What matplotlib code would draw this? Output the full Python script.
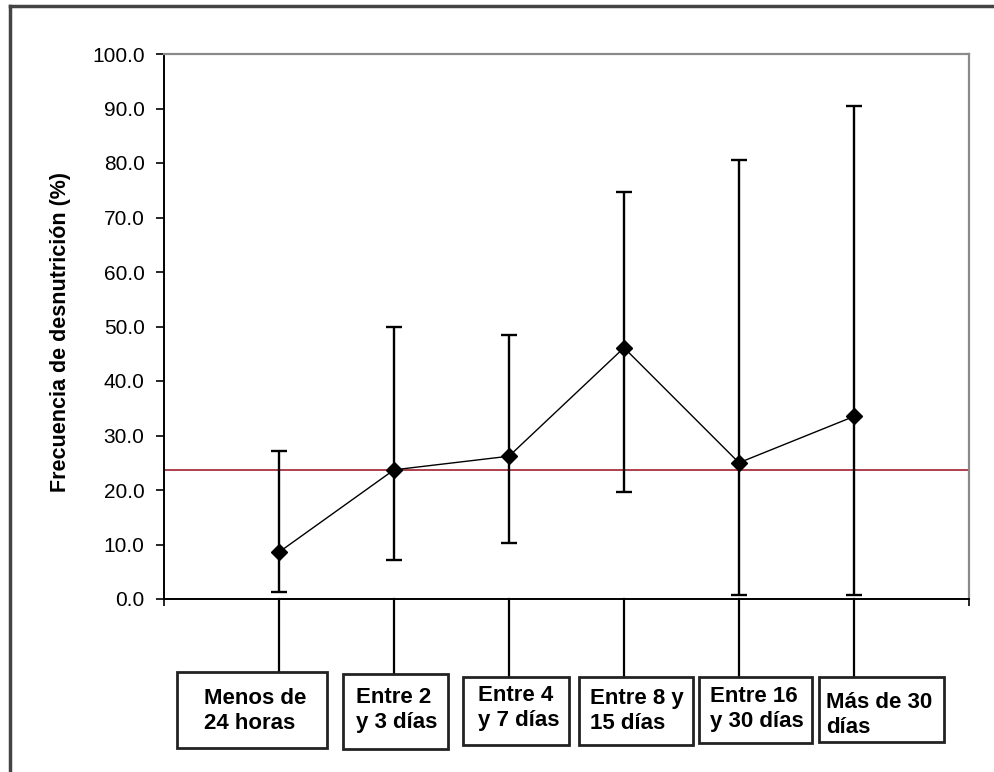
import matplotlib
matplotlib.use('Agg')
import matplotlib.pyplot as plt
import matplotlib.transforms as mtransforms
from matplotlib.lines import Line2D
from matplotlib.patches import Rectangle
import numpy as np

matplotlib.rcParams['font.family'] = ['Liberation Sans', 'DejaVu Sans']

# datos
categorias = ['Menos de\n24 horas', 'Entre 2\ny 3 días', 'Entre 4\ny 7 días',
              'Entre 8 y\n15 días', 'Entre 16\ny 30 días', 'Más de 30\ndías']
frecuencia = np.array([8.6, 23.7, 26.2, 46.1, 25.0, 33.5])
ic_inferior = np.array([1.2, 7.1, 10.3, 19.6, 0.8, 0.8])
ic_superior = np.array([27.2, 50.0, 48.4, 74.7, 80.6, 90.5])
frecuencia_global = 23.6
yticks = np.arange(0, 101, 10)

W, H = 994, 772
# layout of the label boxes in image pixels (left, right, top, bottom)
cajas = [(177, 327, 672, 748), (343, 448, 674, 749), (463, 569, 677, 745),
         (579, 693, 677, 745), (699, 812, 677, 743), (819, 944, 677, 742)]
texto_x = [204, 356, 478, 590, 710, 826]
texto_y = [711, 710, 708, 711, 709, 715]


def fx(x):
    return x / W


def fy(y):
    return 1 - y / H


fig = plt.figure(figsize=(W / 100, H / 100), dpi=100)
ax_l, ax_r, ax_t, ax_b = 164, 969, 54, 599
ax = fig.add_axes([fx(ax_l), fy(ax_b), (ax_r - ax_l) / W, (ax_b - ax_t) / H])

x = np.arange(1, len(categorias) + 1)
ax.axhline(frecuencia_global, color='#a8303e', lw=1.3, zorder=1)
ax.errorbar(x, frecuencia, yerr=[frecuencia - ic_inferior, ic_superior - frecuencia],
            fmt='-D', color='black', ms=8.5, lw=1.0, elinewidth=1.7,
            capsize=6, capthick=1.7, zorder=3)

ax.set_xlim(0, len(categorias) + 1)
ax.set_ylim(0, 100)
ax.set_yticks(yticks)
ax.set_yticklabels([f'{v:.1f}' for v in yticks])
ax.set_xticks([0, len(categorias) + 1])
ax.set_xticklabels([])
ax.tick_params(axis='y', direction='out', length=6, width=1.2, labelsize=15, pad=8)
ax.tick_params(axis='x', direction='out', length=5, width=1.2)
for s in ['left', 'bottom']:
    ax.spines[s].set_color('black')
    ax.spines[s].set_linewidth(1.4)
for s in ['top', 'right']:
    ax.spines[s].set_color('#8a8a8a')
    ax.spines[s].set_linewidth(1.6)

ax.set_ylabel('Frecuencia de desnutrición (%)', fontsize=15.5, fontweight='bold')
ax.yaxis.set_label_coords((71 - ax_l) / (ax_r - ax_l), 0.49)

# lines from the axis to the label boxes, and the boxes
trans = mtransforms.blended_transform_factory(ax.transData, ax.transAxes)
for xi, (l, r, t, b), tx, ty, lab in zip(x, cajas, texto_x, texto_y, categorias):
    y_fin = -(t - ax_b) / (ax_b - ax_t)
    ax.add_line(Line2D([xi, xi], [0, y_fin], transform=trans, color='black',
                       lw=1.6, clip_on=False))
    fig.add_artist(Rectangle((fx(l), fy(b)), (r - l) / W, (b - t) / H,
                             transform=fig.transFigure, fill=False,
                             edgecolor='#222222', lw=2.0))
    fig.text(fx(tx), fy(ty), lab, ha='left', va='center', fontsize=16,
             fontweight='bold', linespacing=1.3)

# outer frame
fig.add_artist(Line2D([fx(10), fx(W)], [fy(6), fy(6)], color='#444444', lw=2.5))
fig.add_artist(Line2D([fx(10), fx(10)], [fy(6), 0], color='#444444', lw=2.5))

fig.savefig('out.png', dpi=100)
